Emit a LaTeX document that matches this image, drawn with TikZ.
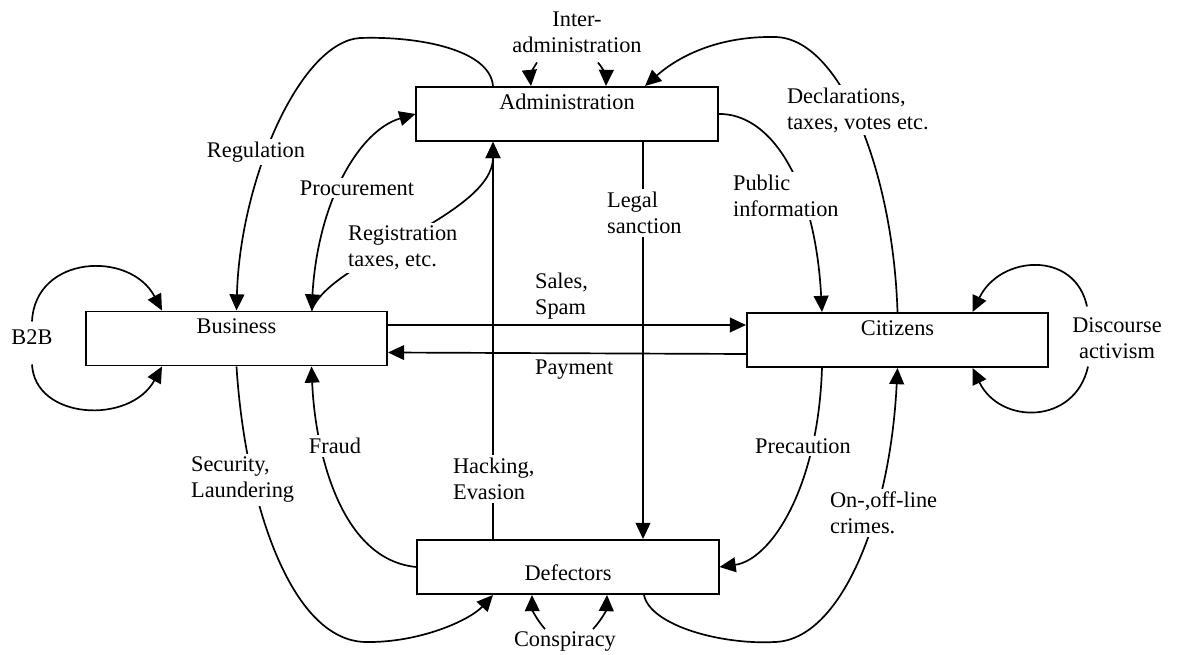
\documentclass[tikz,border=0pt]{standalone}
\usepackage{fontspec}
\setmainfont{Liberation Serif}
\usetikzlibrary{arrows.meta,calc}

\begin{document}
\begin{tikzpicture}[
  x=0.025cm, y=-0.025cm,
  font=\fontsize{15.9pt}{18.5pt}\selectfont,
  >={Triangle[length=11.5pt,width=10.5pt]},
  block/.style={rectangle, draw, line width=1.4pt, minimum width=7.525cm, minimum height=1.35cm, inner sep=0pt, text height=10pt, text depth=16.4pt},
  arrow/.style={->, line width=1.2pt},
  lbl/.style={fill=white, inner sep=2pt, align=left},
  clbl/.style={inner sep=2pt, align=center}
]
\useasboundingbox[fill=white] (0,0) rectangle (1180,655);

\node[block] (admin) at (567,114) {Administration};
\node[block] (business) at (236.5,338.5) {Business};
\node[block] (citizens) at (897.5,340) {Citizens};
\node[block, text height=19.2pt, text depth=0pt] (defectors) at (568,567) {Defectors};

\node[clbl] (inter) at (577,32) {Inter-\\administration};
\node[clbl] (b2b) at (32,337) {B2B};
\node[clbl] (discourse) at (1117,338) {Discourse\\activism};
\node[clbl] (conspiracy) at (565,642) {Conspiracy};

\draw[arrow] ($(admin.north)+(-74,0)$) .. controls (490,50) and (420,36) .. (360,38) .. controls (300,42) and (240,180) .. (business.north);
\draw[arrow, <->] ($(business.north)+(75,0)$) .. controls (318,200) and (360,130) .. (admin.west);
\draw[arrow] ($(business.north)+(75,0)$) .. controls (330,260) and (493,215) .. ($(admin.south)+(-74,0)$);
\draw[arrow] ($(inter.south)+(-40,7)$) to[bend right=20] ($(admin.north)+(-36,0)$);
\draw[arrow] ($(inter.south)+(21,7)$) to[bend left=20] ($(admin.north)+(39,0)$);
\draw[arrow] (citizens.north) .. controls (893,170) and (840,38) .. (775,37) .. controls (720,36) and (680,55) .. ($(admin.north)+(78,0)$);
\draw[arrow] (admin.east) .. controls (770,113) and (815,180) .. ($(citizens.north)+(-75.5,0)$);
\draw[arrow] ($(admin.south)+(76,0)$) -- ($(defectors.north)+(75,0)$);
\draw[arrow] ($(defectors.north)+(-75,0)$) -- ($(admin.south)+(-74,0)$);
\draw[arrow] ($(business.east)+(0,-13.5)$) -- ($(citizens.west)+(0,-15)$);
\draw[arrow] ($(citizens.west)+(0,14)$) -- ($(business.east)+(0,14)$);
\draw[arrow] ($(b2b.north)+(0,-5)$) .. controls (35,255) and (130,250) .. ($(business.north)+(-74.5,0)$);
\draw[arrow] ($(b2b.south)+(0,17)$) .. controls (35,420) and (130,425) .. ($(business.south)+(-74.5,0)$);
\draw[arrow] ($(discourse.north)+(-30,-8)$) .. controls (1075,250) and (1000,255) .. ($(citizens.north)+(75,0)$);
\draw[arrow] ($(discourse.south)+(-29,5)$) .. controls (1075,425) and (1000,425) .. ($(citizens.south)+(75,0)$);
\draw[arrow] (defectors.west) .. controls (340,560) and (315,450) .. ($(business.south)+(75,0)$);
\draw[arrow] (business.south) .. controls (245,500) and (290,640) .. (365,642) .. controls (420,643) and (470,620) .. ($(defectors.south)+(-75,0)$);
\draw[arrow] ($(conspiracy.north)+(-20,0)$) to[bend left=20] ($(defectors.south)+(-36,0)$);
\draw[arrow] ($(conspiracy.north)+(28,0)$) to[bend right=20] ($(defectors.south)+(39,0)$);
\draw[arrow] ($(defectors.south)+(76,0)$) .. controls (650,625) and (720,645) .. (775,642) .. controls (840,640) and (890,520) .. (citizens.south);
\draw[arrow] ($(citizens.south)+(-75.5,0)$) .. controls (818,490) and (770,560) .. (defectors.east);

\node[lbl] (regulation) at (256,152) {Regulation};
\node[lbl] (procurement) at (357,188) {Procurement};
\node[lbl, anchor=west] (registration) at (345,248) {Registration\\taxes, etc.};
\node[lbl, anchor=west] (sales) at (532,296) {Sales,\\Spam};
\node[lbl, anchor=west] (payment) at (532,370) {Payment};
\node[lbl, anchor=west] (legal) at (604,213) {Legal\\sanction};
\node[lbl, anchor=west] (public) at (730,196) {Public\\information};
\node[lbl, anchor=west] (declarations) at (784,110) {Declarations,\\taxes, votes etc.};
\node[lbl, anchor=west] (security) at (188,480) {Security,\\Laundering};
\node[lbl] (fraud) at (335,446) {Fraud};
\node[lbl, anchor=west] (hacking) at (450,479) {Hacking,\\Evasion};
\node[lbl] (precaution) at (803,446) {Precaution};
\node[lbl, anchor=west] (crimes) at (827,513) {On-,off-line\\crimes.};
\end{tikzpicture}
\end{document}
